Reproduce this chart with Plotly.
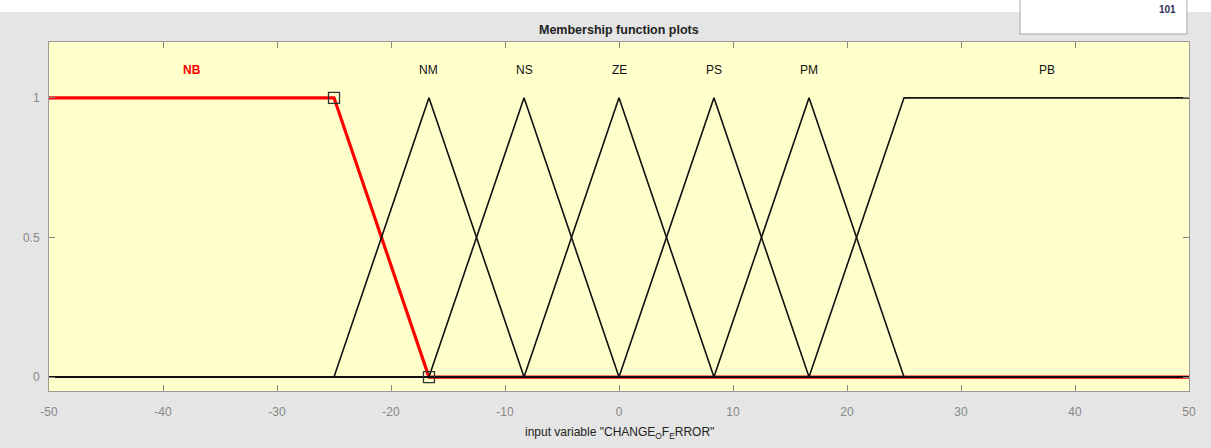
import plotly.graph_objects as go

# Membership function vertices (input variable CHANGE_OF_ERROR, range [-50, 50])
NB_x = [-50, -25, -16.67, 50]
NB_y = [1, 1, 0, 0]
NM_x = [-50, -25, -16.67, -8.33, 50]
NM_y = [0, 0, 1, 0, 0]
NS_x = [-50, -16.67, -8.33, 0, 50]
NS_y = [0, 0, 1, 0, 0]
ZE_x = [-50, -8.33, 0, 8.33, 50]
ZE_y = [0, 0, 1, 0, 0]
PS_x = [-50, 0, 8.33, 16.67, 50]
PS_y = [0, 0, 1, 0, 0]
PM_x = [-50, 8.33, 16.67, 25, 50]
PM_y = [0, 0, 1, 0, 0]
PB_x = [-50, 16.67, 25, 50]
PB_y = [0, 0, 1, 1]

mf_names = ["NM", "NS", "ZE", "PS", "PM", "PB"]
mf_xs = [NM_x, NS_x, ZE_x, PS_x, PM_x, PB_x]
mf_ys = [NM_y, NS_y, ZE_y, PS_y, PM_y, PB_y]
label_x = [-16.67, -8.33, 0, 8.33, 16.67, 37.5]
nb_label_x = -37.5
label_y = 1.1

handle_x = [-25, -16.67]
handle_y = [1, 0]

x_ticks = [-50, -40, -30, -20, -10, 0, 10, 20, 30, 40, 50]
x_ticklabels = ["-50", "-40", "-30", "-20", "-10", "0", "10", "20", "30", "40", "50"]
y_ticks = [0, 0.5, 1]
y_ticklabels = ["0", "0.5", "1"]

FONT = "Liberation Sans, Arial, sans-serif"

fig = go.Figure()

# selected MF (red, thick) drawn first
fig.add_trace(go.Scatter(x=NB_x, y=NB_y, mode="lines",
                         line=dict(color="#ff0000", width=3.2), hoverinfo="skip"))
for xs, ys in zip(mf_xs, mf_ys):
    fig.add_trace(go.Scatter(x=xs, y=ys, mode="lines",
                             line=dict(color="#111111", width=1.6), hoverinfo="skip"))
fig.add_trace(go.Scatter(x=handle_x, y=handle_y, mode="markers",
                         marker=dict(symbol="square-open", size=11,
                                     line=dict(color="#333333", width=1.3),
                                     color="#333333"),
                         hoverinfo="skip"))

annotations = [dict(x=nb_label_x, y=label_y, xref="x", yref="y", text="<b>NB</b>",
                    showarrow=False, font=dict(family=FONT, size=12, color="#ff0000"))]
for name, lx in zip(mf_names, label_x):
    annotations.append(dict(x=lx, y=label_y, xref="x", yref="y", text=name,
                            showarrow=False, font=dict(family=FONT, size=12, color="#111111")))

annotations.append(dict(x=0.5, y=1.033, xref="paper", yref="paper",
                        text="<b>Membership function plots</b>", showarrow=False,
                        yanchor="middle", font=dict(family=FONT, size=12.5, color="#222222")))
annotations.append(dict(x=0.5, y=-0.12, xref="paper", yref="paper",
                        text='input variable "CHANGE<sub>O</sub>F<sub>E</sub>RROR"',
                        showarrow=False, yanchor="middle",
                        font=dict(family=FONT, size=12, color="#222222")))
annotations.append(dict(x=0.99, y=1.094, xref="paper", yref="paper",
                        text="<b>101</b>", showarrow=False, yanchor="middle",
                        font=dict(family=FONT, size=10, color="#333355")))

shapes = [
    # white strip at top of screenshot
    dict(type="rect", xref="paper", yref="paper", x0=-0.1, x1=1.1, y0=1.086, y1=1.15,
         fillcolor="#ffffff", line=dict(width=0), layer="below"),
    # white box at top right
    dict(type="rect", xref="paper", yref="paper", x0=0.8518, x1=0.9982, y0=1.0229, y1=1.15,
         fillcolor="#ffffff", line=dict(color="#a8a8a8", width=1), layer="below"),
]

fig.update_layout(
    width=1211, height=448, autosize=False,
    margin=dict(l=49, r=22, t=42, b=57, pad=0),
    paper_bgcolor="#e5e5e5",
    plot_bgcolor="#ffffcc",
    showlegend=False,
    annotations=annotations,
    shapes=shapes,
    font=dict(family=FONT, size=12, color="#888888"),
)
fig.update_xaxes(range=[-50, 50], tickvals=x_ticks, ticktext=x_ticklabels,
                 ticks="inside", ticklen=6, ticklabelstandoff=10,
                 tickcolor="#888888", showline=True, linecolor="#999999", linewidth=1,
                 mirror="ticks", showgrid=False, zeroline=False,
                 tickfont=dict(family=FONT, size=12, color="#888888"))
fig.update_yaxes(range=[-0.05, 1.2], tickvals=y_ticks, ticktext=y_ticklabels,
                 ticks="inside", ticklen=6, tickcolor="#888888", showline=True,
                 linecolor="#999999", linewidth=1, mirror="ticks", showgrid=False,
                 zeroline=False, ticklabelstandoff=6,
                 tickfont=dict(family=FONT, size=12, color="#888888"))

fig.write_html("out.html", config={"displayModeBar": False},
               post_script="document.body.style.margin='0px';document.body.style.overflow='hidden';")
